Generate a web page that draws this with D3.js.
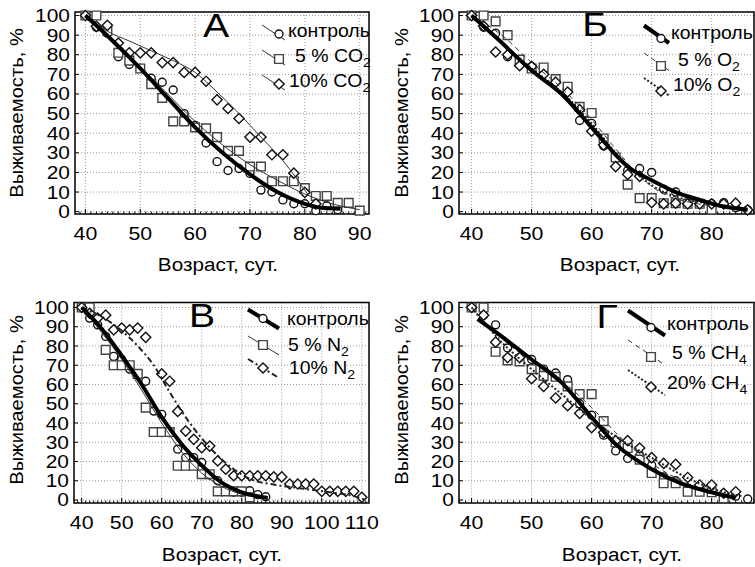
<!DOCTYPE html>
<html>
<head>
<meta charset="utf-8">
<script src="https://cdn.jsdelivr.net/npm/d3@7"></script>
<style>
	body { margin: 0; background: #fff; }
	svg { display: block; font-family: "Liberation Sans", Arial, sans-serif; }
</style>
</head>
<body>
<svg id="vis" width="755" height="567"></svg>
<script>

// ---- data: days of age, survival in %

var daysCtrl = [40,42,44,46,48,50,52,54,56,58,60,62,64,66,68,70,72,74,76,78,80,82,84,86];

// А: CO2
var ctrlA = [100,94,91,79,75,73,68,66,62,50,44,35,25.5,21,22,19.5,11,10,6,4,4,0.5,3,1];
var daysCO2_5 = [40,42,44,46,48,50,52,54,56,58,60,62,64,66,68,70,72,74,76,78,80,82,84,86,88,90];
var co2_5 = [100,100,92,81,77,73,65,58,46,46,43,42.5,38,31,31,23,23,15.5,15.5,15.5,12,8,8,4.5,4.5,0.5];
var daysCO2_10 = [40,42,44,46,48,50,52,54,56,58,60,62,64,66,68,70,72,74,76,78,80,82];
var co2_10 = [100,94.5,95,86,81,81,81,76,76,71,71,66.5,57,52.6,47.5,38,38,29,29,19.6,9.8,4];
var fitCtrlA = [[40,100],[45,87],[50,73],[55,58],[60,43],[65,30],[70,19],[75,10],[80,4],[83,2],[86.5,1.5]];
var fitCO2_5 = [[40,100],[45,88],[50,74],[55,60],[60,46],[65,34],[70,24],[75,16],[80,9],[85,4],[90,1]];
var fitCO2_10 = [[40,100],[44,92],[48,87],[52,82],[56,77],[60,71],[64,61],[68,50],[72,38],[76,26],[80.5,9]];

// Б: O2
var ctrlB = [100,94,91,79,75,74,71,67,62.5,46.5,45,33.5,27,21,22,20,11.5,10,4,4,4,4.6,2,0.9];
var daysO2_5 = [40,42,44,46,48,50,52,54,56,58,60,62,64,66,68,70,72,74,76,78,80];
var o2_5 = [100,100,97,90,77.5,73,73.5,67.6,63.7,53.4,50.3,37.3,27.6,13.8,6.9,6.9,4.3,4.3,4,4,1];
var o2_10 = [100,94.6,81.4,80,74.4,74,70,66,61,52,41,34,23,19,18,4.6,4,4.3,4,4,4,4,4.3,0.9];
var fitCtrlB = [[40,100],[44,89],[50,72],[55,60],[60,43],[64,29],[66,23],[70,16],[74,10],[78,6],[82,2.6],[86,1]];
var fitO2_5 = [[40,100],[45,90],[50,76],[55,63],[60,47],[64,32],[68,18],[72,9],[76,5],[80,3]];
var fitO2_10 = [[40,100],[45,86],[50,73],[55,61],[60,45],[64,30],[68,18],[72,10],[76,6],[80,4],[86,1]];

// В: N2
var ctrlV = [100,94.5,91,85,74.6,73,68,65,61.7,46.2,44.5,35,26.4,22,22,19.5,13,10,5,4,4,4.8,2.8,1.7];
var daysN2_5 = [40,42,46,48,50,52,54,56,58,60,62,64,66,68,70,72,74,76,78,80,82];
var n2_5 = [100,100,78,70,70,70,65.5,48,35.3,35.3,35.3,17.8,17.8,17.8,13.4,13.4,4.5,4.5,4.5,4.5,1.4];
var daysN2_10 = [40,42,44,46,48,50,52,54,56,60,62,64,66,68,70,72,74,76,78,80,82,84,86,88,90,92,94,96,98,100,102,104,106,108,110];
var n2_10 = [100,97,94.5,96,88.4,89.3,88.4,89.3,84.5,65.5,61.7,46,35.8,31.5,27.2,28,20.3,16,12.6,12.6,12.6,12.6,12.6,12,12,8.3,8.3,8.3,8.3,4.5,4.5,4.5,4.5,4.5,1.4];
var fitCtrlV = [[40,100],[45,89],[50,75],[55,60],[60,43],[65,29],[70,18],[75,9],[80,4],[86.5,1]];
var fitN2_5 = [[40,100],[45,87],[50,73],[55,57],[60,40],[65,25],[70,14],[75,7],[80,3],[82,2]];
var fitN2_10 = [[40,100],[46,94],[50,88],[54,80],[58,70],[62,56],[66,43],[70,32],[74,23],[78,16],[82,11],[88,8],[95,6],[102,4],[108,2],[111,0]];

// Г: CH4
var ctrlG = [100,96,91,79,74,73,68,66,62.5,50,44,33.7,25.5,21.6,23,18,12,10,6,5,5,3,2,0.5];
var daysCH4_5 = [40,42,44,46,48,50,52,54,56,58,60,62,64,66,68,70,72,74,76,78,80,82];
var ch4_5 = [100,100,77,72.5,72,68,64.5,64,59,55,55,41,30,27,21,14,8.7,8.7,4.3,4.3,4,0.9];
var daysCH4_20 = [40,42,44,46,48,50,52,54,56,58,60,62,64,66,68,70,72,74,76,78,80,82,84];
var ch4_20 = [100,96,82,74,74,63,59,53,49,45,37.6,35,30.8,30.8,27,22,19,18.5,11.7,7.8,7.8,3.5,4.3];
var fitCtrlG = [[41,94],[45,85],[50,73],[55,61],[60,43],[64,29],[70,16],[75,8.5],[80,4],[84,1]];
var fitCH4_5 = [[40,100],[45,84],[50,72],[55,62],[60,48],[65,32],[70,19],[75,10],[80,4],[82,2]];
var fitCH4_20 = [[40,100],[45,82],[50,68],[55,55],[60,42],[65,31],[70,22],[75,13],[80,6],[85,2]];

var yTicks = [0,10,20,30,40,50,60,70,80,90,100];
var xTitle = 'Возраст, сут.';
var yTitle = 'Выживаемость, %';

// ----

var lineStyles = {
	thick: { w: 4, dash: null, color: '#000' },
	thin: { w: 1, dash: null, color: '#333' },
	dashed: { w: 1, dash: '5,4', color: '#333' },
	dotted: { w: 2, dash: '2,2', color: '#222' },
	dashdot: { w: 2, dash: '6,3,2,3', color: '#222' }
};

var panels = [
	{
		letter: 'А', frame: [75, 12, 369, 214], xDom: [38.1, 91.7], yDom: [-1.2, 101.8],
		xTicks: [40,50,60,70,80,90], letterX: 216, letterY: 37, yTitleX: 23, yTitleY: 113, xTitleX: 218, xTitleY: 271,
		legend: { x: 288, rows: [37, 62, 87], dx: [0, 7, 1], line: [-26, -12, -3, 3], mk: [-9, -3], thin: true },
		series: [
			{ label: ['контроль'], days: daysCtrl, vals: ctrlA, fit: fitCtrlA, mark: 'circle', style: 'thick' },
			{ label: ['5 % CO', '2'], days: daysCO2_5, vals: co2_5, fit: fitCO2_5, mark: 'square', style: 'thin' },
			{ label: ['10% CO', '2'], days: daysCO2_10, vals: co2_10, fit: fitCO2_10, mark: 'diamond', style: 'thin' }
		]
	},
	{
		letter: 'Б', frame: [459, 12, 754, 214], xDom: [37.9, 87.05], yDom: [-1.2, 101.8],
		xTicks: [40,50,60,70,80], letterX: 595, letterY: 36, yTitleX: 408, yTitleY: 113, xTitleX: 620, xTitleY: 271,
		legend: { x: 671, rows: [38.5, 66, 91], dx: [0, 7, 2], line: [-27, -13, -2, 4.5], mk: [-10, 0] },
		series: [
			{ label: ['контроль'], days: daysCtrl, vals: ctrlB, fit: fitCtrlB, mark: 'circle', style: 'thick' },
			{ label: ['5 % O', '2'], days: daysO2_5, vals: o2_5, fit: fitO2_5, mark: 'square', style: 'dashed' },
			{ label: ['10% O', '2'], days: daysCtrl, vals: o2_10, fit: fitO2_10, mark: 'diamond', style: 'dotted' }
		]
	},
	{
		letter: 'В', frame: [74, 302.5, 369, 503], xDom: [38.08, 111.8], yDom: [-1.56, 102.6],
		xTicks: [40,50,60,70,80,90,100,110], letterX: 202, letterY: 327, yTitleX: 23, yTitleY: 400, xTitleX: 222, xTitleY: 561,
		legend: { x: 287, rows: [324.5, 351, 374], dx: [0, 1, 2], line: [-39, -15, -8, 4], mk: [-24, -6] },
		series: [
			{ label: ['контроль'], days: daysCtrl, vals: ctrlV, fit: fitCtrlV, mark: 'circle', style: 'thick' },
			{ label: ['5 % N', '2'], days: daysN2_5, vals: n2_5, fit: fitN2_5, mark: 'square', style: 'thin' },
			{ label: ['10% N', '2'], days: daysN2_10, vals: n2_10, fit: fitN2_10, mark: 'diamond', style: 'dashdot' }
		]
	},
	{
		letter: 'Г', frame: [459, 302.5, 754, 503], xDom: [37.9, 87.05], yDom: [-1.56, 102.6],
		xTicks: [40,50,60,70,80], letterX: 607, letterY: 328, yTitleX: 408, yTitleY: 400, xTitleX: 622, xTitleY: 561,
		legend: { x: 667, rows: [329.5, 359, 389], dx: [0, 5, 0], line: [-39, -19, -2, 6], mk: [-16, -2] },
		series: [
			{ label: ['контроль'], days: daysCtrl, vals: ctrlG, fit: fitCtrlG, mark: 'circle', style: 'thick' },
			{ label: ['5 % CH', '4'], days: daysCH4_5, vals: ch4_5, fit: fitCH4_5, mark: 'square', style: 'dashed' },
			{ label: ['20% CH', '4'], days: daysCH4_20, vals: ch4_20, fit: fitCH4_20, mark: 'diamond', style: 'dotted' }
		]
	}
];

var svg = d3.select('#vis');

// the source picture is a bit wider than tall, so glyphs get stretched sideways
function stretch(sel, k) {
	sel.each(function() {
		var w = this.getComputedTextLength();
		d3.select(this).attr('textLength', w * k).attr('lengthAdjust', 'spacingAndGlyphs');
	});
}

function markerPath(type) {
	if (type === 'circle') return d3.symbol().type(d3.symbolCircle).size(50)();
	if (type === 'square') return d3.symbol().type(d3.symbolSquare).size(76)();
	return d3.symbol().type(d3.symbolSquare).size(52)();
}

function drawMarker(sel, type) {
	sel.append('path')
		.attr('d', markerPath(type))
		.attr('transform', function(d) { return 'translate(' + d[0] + ',' + d[1] + ')' + (type === 'diamond' ? ' rotate(45)' : ''); })
		.attr('fill', '#fff')
		.attr('stroke', type === 'square' ? '#444' : '#111')
		.attr('stroke-width', 1.4);
}

function styleLine(sel, st) {
	sel.attr('fill', 'none')
		.attr('stroke', st.color)
		.attr('stroke-width', st.w)
		.attr('stroke-dasharray', st.dash);
}

function drawPanel(p) {
	var l = p.frame[0], t = p.frame[1], r = p.frame[2], b = p.frame[3];
	var x = d3.scaleLinear().domain(p.xDom).range([l, r]);
	var y = d3.scaleLinear().domain(p.yDom).range([b, t]);
	var g = svg.append('g');

	// dotted grid
	g.selectAll('.vgrid').data(p.xTicks).enter().append('line')
		.attr('x1', function(d) { return x(d); }).attr('x2', function(d) { return x(d); })
		.attr('y1', t).attr('y2', b)
		.attr('stroke', '#9a9a9a').attr('stroke-dasharray', '1,2');
	g.selectAll('.hgrid').data(yTicks).enter().append('line')
		.attr('y1', function(d) { return y(d); }).attr('y2', function(d) { return y(d); })
		.attr('x1', l).attr('x2', r)
		.attr('stroke', '#9a9a9a').attr('stroke-dasharray', '1,2');

	g.append('rect')
		.attr('x', l).attr('y', t).attr('width', r - l).attr('height', b - t)
		.attr('fill', 'none').attr('stroke', '#000').attr('stroke-width', 1.5);

	// inward ticks
	var minor = d3.range(Math.ceil(p.xDom[0]), Math.floor(p.xDom[1]) + 1);
	g.selectAll('.xminor').data(minor).enter().append('line')
		.attr('x1', function(d) { return x(d); }).attr('x2', function(d) { return x(d); })
		.attr('y1', b).attr('y2', function(d) { return d % 10 === 0 ? b - 5 : b - 2.5; })
		.attr('stroke', '#000');
	g.selectAll('.ymajor').data(yTicks).enter().append('line')
		.attr('y1', function(d) { return y(d); }).attr('y2', function(d) { return y(d); })
		.attr('x1', l).attr('x2', l + 4)
		.attr('stroke', '#000');

	g.selectAll('.xlab').data(p.xTicks).enter().append('text')
		.attr('x', function(d) { return x(d); })
		.attr('y', b + 26)
		.attr('text-anchor', 'middle')
		.style('font-size', '19px')
		.text(function(d) { return d; })
		.call(stretch, 1.12);
	g.selectAll('.ylab').data(yTicks).enter().append('text')
		.attr('x', l - 5)
		.attr('y', function(d) { return y(d) + 6.5; })
		.attr('text-anchor', 'end')
		.style('font-size', '19px')
		.text(function(d) { return d; })
		.call(stretch, 1.1);

	g.append('text')
		.attr('x', p.xTitleX).attr('y', p.xTitleY)
		.attr('text-anchor', 'middle')
		.style('font-size', '18px')
		.text(xTitle)
		.call(stretch, 1.15);
	g.append('text')
		.attr('transform', 'translate(' + p.yTitleX + ',' + p.yTitleY + ') rotate(-90)')
		.attr('text-anchor', 'middle')
		.style('font-size', '18px')
		.text(yTitle)
		.call(stretch, 1.12);

	g.append('text')
		.attr('x', p.letterX).attr('y', p.letterY)
		.attr('text-anchor', 'middle')
		.style('font-size', '34px')
		.text(p.letter)
		.call(stretch, 1.15);

	// points
	p.series.forEach(function(s) {
		var pts = s.days.map(function(d, i) { return [x(d), y(s.vals[i])]; });
		g.append('g').selectAll('g').data(pts).enter().append('g')
			.call(drawMarker, s.mark);
	});

	// fitted curves
	var line = d3.line()
		.x(function(d) { return x(d[0]); })
		.y(function(d) { return y(d[1]); })
		.curve(d3.curveMonotoneX);
	p.series.slice().reverse().forEach(function(s) {
		g.append('path').attr('d', line(s.fit)).call(styleLine, lineStyles[s.style]);
	});

	// legend
	var lg = p.legend;
	p.series.forEach(function(s, i) {
		var B = lg.rows[i];
		g.append('line')
			.attr('x1', lg.x + lg.line[0]).attr('y1', B + lg.line[1])
			.attr('x2', lg.x + lg.line[2]).attr('y2', B + lg.line[3])
			.call(styleLine, lineStyles[lg.thin ? 'thin' : s.style]);
		g.append('g').datum([lg.x + lg.mk[0], B + lg.mk[1]]).call(drawMarker, s.mark);

		var txt = g.append('text')
			.attr('x', lg.x + lg.dx[i]).attr('y', B)
			.style('font-size', '18px');
		txt.append('tspan').text(s.label[0]);
		if (s.label[1]) txt.append('tspan').attr('dy', 5).style('font-size', '13px').text(s.label[1]);
		txt.call(stretch, 1.08);
	});
}

panels.forEach(drawPanel);

</script>
</body>
</html>
